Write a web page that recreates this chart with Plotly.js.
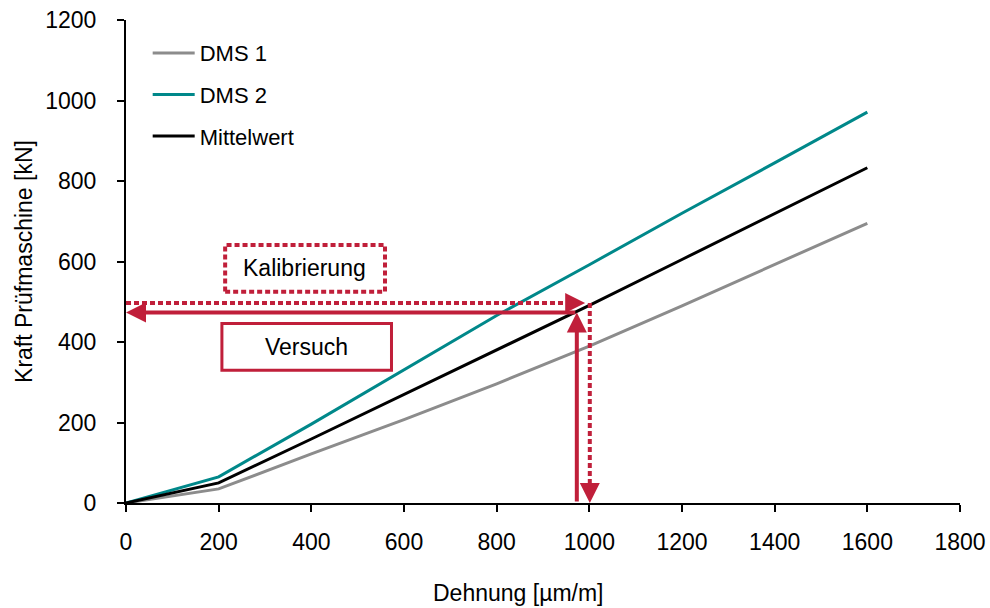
<!DOCTYPE html>
<html>
<head>
<meta charset="utf-8">
<script src="https://cdn.plot.ly/plotly-3.0.1.min.js"></script>
<style>html,body{margin:0;padding:0;background:#fff;}#chart{width:990px;height:608px;}</style>
</head>
<body>
<div id="chart"></div>
<script>
// Data
const dehnung = [0, 200, 400, 600, 800, 1000, 1200, 1400, 1600];
const dms1 = [0, 35, 122, 207, 296, 390, 490, 592, 695];
const dms2 = [0, 65, 196, 332, 466, 592, 720, 845, 971];
const mittelwert = [0, 50, 159, 270, 381, 491, 605, 718, 833];
const seriesNames = ["DMS 1", "DMS 2", "Mittelwert"];
const xTicks = [0, 200, 400, 600, 800, 1000, 1200, 1400, 1600, 1800];
const yTicks = [0, 200, 400, 600, 800, 1000, 1200];
// Reading markers (Versuch / Kalibrierung)
const versuchPoint = {x: 973, y: 473};
const kalibPoint = {x: 1001, y: 497};
const labels = {kalib: "Kalibrierung", versuch: "Versuch"};

const RED = "#C01F3A";
const FONT = "Liberation Sans, Arial, sans-serif";
const FS = 23;

const traces = [
  {x: dehnung, y: dms1, name: seriesNames[0], mode: "lines", line: {color: "#8C8C8C", width: 3}, legendgroup: "a"},
  {x: dehnung, y: dms2, name: seriesNames[1], mode: "lines", line: {color: "#00888A", width: 3}, legendgroup: "b"},
  {x: dehnung, y: mittelwert, name: seriesNames[2], mode: "lines", line: {color: "#000000", width: 3}, legendgroup: "c"}
];

const layout = {
  width: 990, height: 608,
  margin: {l: 126, r: 30, t: 20, b: 105},
  paper_bgcolor: "#fff", plot_bgcolor: "#fff",
  font: {family: FONT, size: FS, color: "#000"},
  showlegend: true,
  legend: {x: 0.026, y: 0.975, xanchor: "left", yanchor: "top", bgcolor: "rgba(0,0,0,0)", itemwidth: 42,
           font: {family: FONT, size: 22, color: "#000"}, traceorder: "grouped", tracegroupgap: 10},
  xaxis: {range: [0, 1800], tickvals: xTicks, ticks: "outside", ticklen: 7, tickwidth: 2, tickcolor: "#000",
          showline: true, linewidth: 2, linecolor: "#000", showgrid: false, zeroline: false,
          ticklabelstandoff: 10, tickfont: {family: FONT, size: FS, color: "#000"}},
  yaxis: {range: [0, 1200], tickvals: yTicks, ticks: "outside", ticklen: 7, tickwidth: 2, tickcolor: "#000",
          showline: true, linewidth: 2, linecolor: "#000", showgrid: false, zeroline: false,
          ticklabelstandoff: 16, tickfont: {family: FONT, size: FS, color: "#000"},
          title: {text: "Kraft Prüfmaschine [kN]", font: {family: FONT, size: FS, color: "#000"}, standoff: 6}},
  shapes: [
    // Kalibrierung dotted box
    {type: "rect", xref: "x", yref: "y", x0: 214, x1: 559, y0: 525, y1: 641, line: {color: RED, width: 4, dash: "5px,3px"}},
    // Versuch solid box
    {type: "rect", xref: "x", yref: "y", x0: 207, x1: 573, y0: 330, y1: 446, line: {color: RED, width: 3}},
    // dotted horizontal (Kalibrierung)
    {type: "line", xref: "x", yref: "y", x0: 0, x1: kalibPoint.x - 45, y0: kalibPoint.y, y1: kalibPoint.y, line: {color: RED, width: 4, dash: "5px,3px"}},
    // dotted vertical (Kalibrierung)
    {type: "line", xref: "x", yref: "y", x0: kalibPoint.x, x1: kalibPoint.x, y0: kalibPoint.y, y1: 30, line: {color: RED, width: 4, dash: "5px,3px"}}
  ],
  annotations: [
    {xref: "paper", yref: "paper", x: 0.471, y: -0.186, xanchor: "center", yanchor: "middle", showarrow: false,
     text: "Dehnung [µm/m]", font: {family: FONT, size: FS, color: "#000"}},
    {xref: "x", yref: "y", x: 386, y: 583, text: labels.kalib, showarrow: false, font: {family: FONT, size: FS, color: "#000"}},
    {xref: "x", yref: "y", x: 390, y: 388, text: labels.versuch, showarrow: false, font: {family: FONT, size: FS, color: "#000"}},
    // solid horizontal arrow (to y-axis)
    {xref: "x", yref: "y", axref: "x", ayref: "y", x: 0, y: versuchPoint.y, ax: versuchPoint.x, ay: versuchPoint.y,
     text: "", showarrow: true, arrowhead: 2, arrowsize: 1, arrowwidth: 4, arrowcolor: RED, standoff: 0},
    // solid vertical arrow (from x-axis up)
    {xref: "x", yref: "y", axref: "x", ayref: "y", x: versuchPoint.x, y: versuchPoint.y, ax: versuchPoint.x, ay: 0,
     text: "", showarrow: true, arrowhead: 2, arrowsize: 1, arrowwidth: 4, arrowcolor: RED, standoff: 0},
    // dotted horizontal arrow head
    {xref: "x", yref: "y", axref: "x", ayref: "y", x: kalibPoint.x - 10, y: kalibPoint.y, ax: kalibPoint.x - 48, ay: kalibPoint.y,
     text: "", showarrow: true, arrowhead: 2, arrowsize: 1, arrowwidth: 4, arrowcolor: RED, standoff: 0},
    // dotted vertical arrow head
    {xref: "x", yref: "y", axref: "x", ayref: "y", x: kalibPoint.x, y: 0, ax: kalibPoint.x, ay: 35,
     text: "", showarrow: true, arrowhead: 2, arrowsize: 1, arrowwidth: 4, arrowcolor: RED, standoff: 0}
  ]
};

Plotly.newPlot("chart", traces, layout, {displayModeBar: false, staticPlot: true});
</script>
</body>
</html>
